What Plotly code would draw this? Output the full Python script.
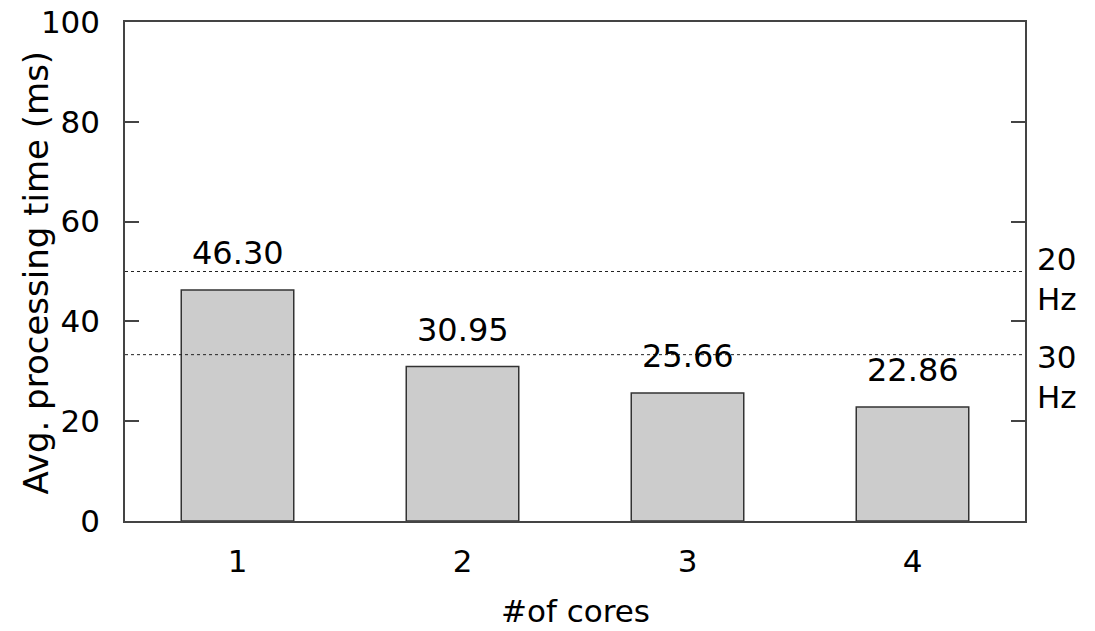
import plotly.graph_objects as go

# Average processing time per frame for different core counts
cores = ["1", "2", "3", "4"]
avg_time_ms = [46.30, 30.95, 25.66, 22.86]

# Frame-rate deadlines (ms) and their labels
deadline_ms = [50.0, 1000.0 / 30.0]
deadline_labels = ["20<br>Hz", "30<br>Hz"]
deadline_label_shift = [-7, -22]

y_ticks = [0, 20, 40, 60, 80, 100]

x_title = "#of cores"
y_title = "Avg. processing time (ms)"

FONT = "DejaVu Sans"
x_pos = [1, 2, 3, 4]

fig = go.Figure()
fig.add_trace(go.Bar(
    x=x_pos,
    y=avg_time_ms,
    width=0.5,
    marker=dict(color="#cccccc", line=dict(color="#333333", width=1.5)),
    showlegend=False,
))

shapes = []
annotations = []
for xv, v in zip(x_pos, avg_time_ms):
    annotations.append(dict(
        x=xv, y=v, xref="x", yref="y", text=f"{v:.2f}", showarrow=False,
        yanchor="bottom", yshift=16, font=dict(family=FONT, size=32, color="black"),
    ))
for d, lab, sh in zip(deadline_ms, deadline_labels, deadline_label_shift):
    shapes.append(dict(
        type="line", xref="paper", x0=0, x1=1, yref="y", y0=d, y1=d,
        line=dict(color="#222222", width=1, dash="dot"),
    ))
    annotations.append(dict(
        x=1, xref="paper", y=d, yref="y", text=lab, showarrow=False,
        xanchor="left", yanchor="middle", xshift=10, yshift=sh, align="left",
        font=dict(family=FONT, size=31, color="black"),
    ))

# Axis titles placed as annotations so they can sit close to the tick labels
annotations.append(dict(
    x=0.5, xref="paper", y=0, yref="paper", text=x_title, showarrow=False,
    xanchor="center", yanchor="middle", yshift=-90,
    font=dict(family=FONT, size=31, color="black"),
))
annotations.append(dict(
    x=0, xref="paper", y=0.5, yref="paper", text=y_title, showarrow=False,
    xanchor="center", yanchor="middle", xshift=-90, yshift=-1, textangle=-90,
    font=dict(family=FONT, size=34, color="black"),
))

fig.update_layout(
    width=1095, height=631,
    margin=dict(l=125, r=70, t=22, b=110),
    plot_bgcolor="white", paper_bgcolor="white",
    font=dict(family=FONT, size=31, color="black"),
    shapes=shapes,
    annotations=annotations,
    xaxis=dict(
        range=[0.5, 4.5],
        tickvals=x_pos, ticktext=cores,
        ticks="", showgrid=False, zeroline=False,
        showline=True, linecolor="#444444", linewidth=1.5, mirror=True,
        ticklabelstandoff=12, automargin=False,
        tickfont=dict(family=FONT, size=31),
    ),
    yaxis=dict(
        range=[0, 100],
        tickvals=y_ticks,
        ticks="inside", ticklen=14, tickwidth=1.5, tickcolor="#444444",
        showgrid=False, zeroline=False,
        showline=True, linecolor="#444444", linewidth=1.5, mirror="ticks",
        ticklabelstandoff=17, automargin=False,
        tickfont=dict(family=FONT, size=31),
    ),
)

fig.write_html("out.html")
